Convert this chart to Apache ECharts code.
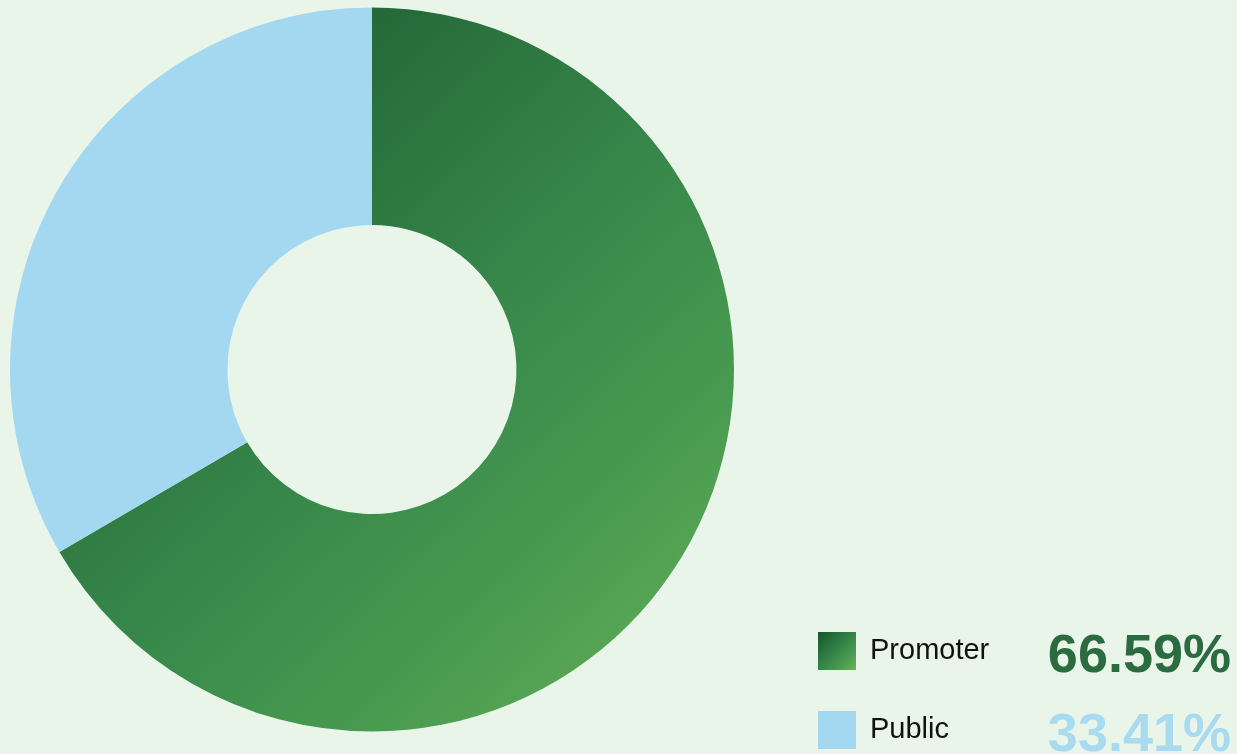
<!DOCTYPE html>
<html>
<head>
<meta charset="utf-8">
<script src="https://cdn.jsdelivr.net/npm/echarts@6/dist/echarts.min.js"></script>
<style>
  html, body { margin: 0; padding: 0; background: #eaf5ea; }
  #chart { width: 1237px; height: 754px; }
</style>
</head>
<body>
<div id="chart"></div>
<script>
// Shareholding split
const categories = ['Promoter', 'Public'];
const shares = [66.59, 33.41];
const sliceColors = [
  new echarts.graphic.LinearGradient(0, 0, 1, 1, [
    { offset: 0, color: '#1a5629' },
    { offset: 0.25, color: '#266c3a' },
    { offset: 0.5, color: '#36864a' },
    { offset: 0.75, color: '#499b50' },
    { offset: 1, color: '#6ab458' }
  ]),
  '#a3d8f0'
];
const valueColors = ['#2a6b3f', '#a8daf0'];
const legendTops = [618, 697];

const chart = echarts.init(document.getElementById('chart'), null, { renderer: 'canvas' });

const pieData = categories.map((name, i) => ({
  name,
  value: shares[i],
  itemStyle: { color: sliceColors[i] }
}));

// One legend row per category: swatch, name, and a large percentage
const legends = categories.map((name, i) => ({
  data: [name],
  orient: 'vertical',
  left: 818,
  top: legendTops[i],
  padding: 0,
  itemWidth: 38,
  itemHeight: 38,
  icon: 'rect',
  selectedMode: false,
  formatter: function (n) {
    const k = categories.indexOf(n);
    return '{n|' + n + '}{v|' + shares[k].toFixed(2) + '%}';
  },
  textStyle: {
    rich: {
      n: {
        width: 170,
        lineHeight: 38,
        padding: [6, 0, 6, 9],
        fontSize: 29,
        fontFamily: 'Liberation Sans, Arial, sans-serif',
        color: '#111111'
      },
      v: {
        width: 191,
        lineHeight: 38,
        padding: [12, 0, 0, 0],
        align: 'right',
        fontSize: 54,
        fontWeight: 'bold',
        fontFamily: 'Liberation Sans, Arial, sans-serif',
        color: valueColors[i]
      }
    }
  }
}));

chart.setOption({
  backgroundColor: '#eaf5ea',
  animation: false,
  legend: legends,
  series: [{
    type: 'pie',
    center: [372, 369.5],
    radius: [144.5, 362],
    startAngle: 90,
    clockwise: true,
    label: { show: false },
    labelLine: { show: false },
    emphasis: { disabled: true },
    itemStyle: { borderWidth: 0 },
    data: pieData
  }]
});
</script>
</body>
</html>
